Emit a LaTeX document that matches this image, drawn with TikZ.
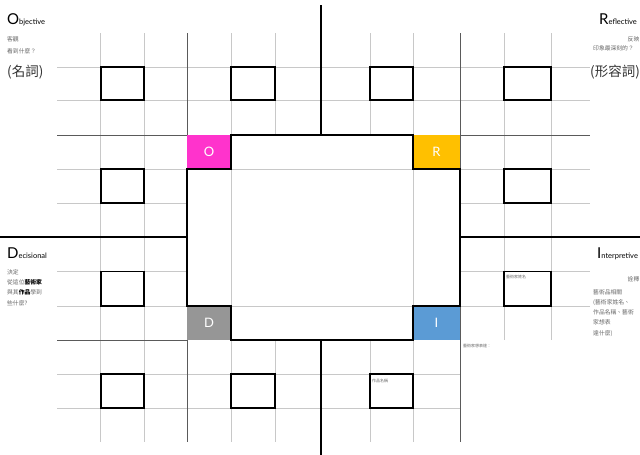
\documentclass[tikz,border=0pt]{standalone}
\usepackage{fontspec}
\setmainfont{Lato}
\newfontfamily\cjk{Noto Sans CJK TC}
\usetikzlibrary{positioning}
\definecolor{orpink}{HTML}{FF33CC}
\definecolor{oramber}{HTML}{FFC000}
\definecolor{orgray}{HTML}{969696}
\definecolor{orblue}{HTML}{5B9BD5}
\definecolor{gridlight}{HTML}{C8C8C8}
\definecolor{griddark}{HTML}{5A5A5A}
\definecolor{notegray}{HTML}{666666}
\newcommand\orhead[2]{{\fontsize{15}{15}\selectfont #1}{\fontsize{7.5}{8}\selectfont #2}}
\tikzset{gridline/.style={gridlight,line width=.9pt}, darkline/.style={griddark,line width=.9pt}, frameline/.style={black,line width=2.8pt,line join=miter}, answerbox/.style={draw=black,line width=1.8pt}, lettersq/.style={minimum height=34pt,inner sep=0pt,text=white,font=\fontsize{13}{13}\selectfont}, heading/.style={anchor=base west,inner sep=0pt}, cjknote/.style={inner sep=0pt,text=notegray,font=\cjk\fontsize{5.8}{10.3}\selectfont,align=left}, cjkbig/.style={inner sep=0pt,anchor=base west,text=black!80,font=\cjk\fontsize{13.5}{14}\selectfont}, tinynote/.style={inner sep=0pt,anchor=north west,text=notegray,font=\cjk\fontsize{4}{4}\selectfont}}

\begin{document}
\begin{tikzpicture}[x=1pt,y=-1pt]
\useasboundingbox (0,0) rectangle (640,455);
\clip (0,0) rectangle (640,455);
% light grid
\foreach \x in {100.7,144.3} \draw[gridline] (\x,33)--(\x,442);
\foreach \x in {231,275,370,413} {\draw[gridline] (\x,33)--(\x,135); \draw[gridline] (\x,340)--(\x,442);}
\foreach \x in {231,413} \draw[gridline] (\x,169)--(\x,306);
\foreach \x in {504,551} \draw[gridline] (\x,33)--(\x,340);
\foreach \y in {67,100,169,306} \draw[gridline] (57,\y)--(590,\y);
\foreach \y in {203,271.5} {\draw[gridline] (57,\y)--(187,\y); \draw[gridline] (460,\y)--(590,\y);}
\foreach \y in {374,408} \draw[gridline] (57,\y)--(460,\y);
% darker guides
\foreach \x in {187,460} \draw[darkline] (\x,33)--(\x,442);
\draw[darkline] (57,135)--(590,135);
\draw[darkline] (57,340)--(187,340);
% answer boxes
\foreach \xa/\ya/\xb/\yb in {100.7/67/144.3/100, 231/67/275/100, 370/67/413/100, 504/67/551/100, 100.7/169/144.3/203, 504/169/551/203, 100.7/271.5/144.3/306, 504/271.5/551/306, 100.7/374/144.3/408, 231/374/275/408, 370/374/413/408}
  \draw[answerbox] (\xa,\ya) rectangle (\xb,\yb);
% corner letters
\node[lettersq,fill=orpink,minimum width=44pt] (sqO) at (209,152) {O};
\node[lettersq,fill=oramber,minimum width=47pt] (sqR) at (436.5,152) {R};
\node[lettersq,fill=orgray,minimum width=44pt] (sqD) at (209,323) {D};
\node[lettersq,fill=orblue,minimum width=47pt] (sqI) at (436.5,323) {I};
% heavy frame
\draw[frameline] (231,135)--(413,135)--(413,169)--(460,169)--(460,306)--(413,306)--(413,340)--(231,340)--(231,306)--(187,306)--(187,169)--(231,169)--cycle;
\draw[frameline] (321,5)--(321,135); \draw[frameline] (321,340)--(321,455);
\draw[frameline] (0,237)--(187,237); \draw[frameline] (460,237)--(640,237);
% headings
\node[heading] (objT) at (7,24) {\orhead{O}{bjective}};
\node[heading] (refT) at (599,24) {\orhead{R}{eflective}};
\node[heading] (decT) at (7,258) {\orhead{D}{ecisional}};
\node[heading] (intT) at (597,258) {\orhead{I}{nterpretive}};
% notes
\node[cjknote,anchor=base west] (objA) at (7,41) {客觀};
\node[cjknote,anchor=base west] (objB) at (7,53) {看到什麼？};
\node[cjkbig] (objC) at (7,76) {(名詞)};
\node[cjknote,anchor=base east] (refA) at (639.5,41) {反映};
\node[cjknote,anchor=base west] (refB) at (593,50) {印象最深刻的？};
\node[cjkbig] (refC) at (590,76) {(形容詞)};
\node[cjknote,anchor=north west] (decA) at (7,269) {決定\\從這位\textcolor{black}{\textbf{藝術家}}\\與其\textcolor{black}{\textbf{作品}}學到\\些什麼?};
\node[cjknote,anchor=base east] (intA) at (639.5,281) {詮釋};
\node[cjknote,anchor=north west] (intB) at (593,289) {藝術品相關\\(藝術家姓名、\\作品名稱、藝術\\家想表\\達什麼)};
\node[tinynote] (boxName) at (506,275) {藝術家姓名};
\node[tinynote] (boxWork) at (372,379) {作品名稱};
\node[tinynote] (boxMean) at (463,344) {藝術家想表達：};
\end{tikzpicture}
\end{document}
